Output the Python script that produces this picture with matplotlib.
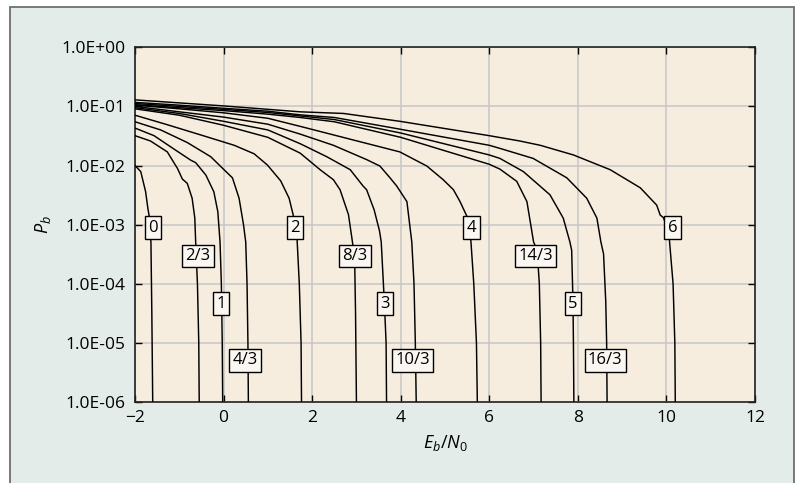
import matplotlib
matplotlib.use("Agg")
import matplotlib.pyplot as plt
from matplotlib.patches import Rectangle

plt.rcParams['font.family'] = ['Open Sans', 'DejaVu Sans']
plt.rcParams['mathtext.fontset'] = 'custom'
plt.rcParams['mathtext.it'] = 'Open Sans:italic'
plt.rcParams['mathtext.rm'] = 'Open Sans'

# ---- data: Eb/N0 (dB) and Pb for each spectral efficiency ----
c0_x = [-2.0, -1.87, -1.76, -1.71, -1.68, -1.64, -1.62, -1.60]
c0_p = [1.0e-2, 7.9e-3, 3.6e-3, 1.9e-3, 1.4e-3, 5.0e-4, 3.2e-5, 1e-6]

c23_x = [-2.0, -1.65, -1.27, -1.04, -0.93, -0.82, -0.71, -0.65, -0.63, -0.59, -0.56, -0.55]
c23_p = [3.2e-2, 2.6e-2, 1.7e-2, 8.9e-3, 5.9e-3, 5.0e-3, 2.8e-3, 1.3e-3, 5.1e-4, 1e-4, 1e-5, 1e-6]

c1_x = [-2.0, -1.57, -1.12, -0.74, -0.63, -0.40, -0.22, -0.13, -0.08, -0.05, -0.03, -0.02]
c1_p = [4.3e-2, 3.2e-2, 1.9e-2, 1.23e-2, 1.12e-2, 6.9e-3, 3.6e-3, 1.66e-3, 5.1e-4, 1e-4, 1e-5, 1e-6]

c43_x = [-2.0, -1.42, -0.82, -0.29, 0.01, 0.20, 0.35, 0.45, 0.50, 0.53, 0.55, 0.56]
c43_p = [5.5e-2, 4.0e-2, 2.45e-2, 1.41e-2, 8.5e-3, 6.2e-3, 2.8e-3, 1.0e-3, 5.1e-4, 1e-4, 1e-5, 1e-6]

c2_x = [-2.0, -1.27, -0.52, 0.24, 0.69, 0.99, 1.29, 1.48, 1.57, 1.65, 1.71, 1.75, 1.76]
c2_p = [7.1e-2, 4.9e-2, 3.3e-2, 2.2e-2, 1.58e-2, 1.02e-2, 5.5e-3, 2.8e-3, 1.48e-3, 7.9e-4, 1e-4, 1e-5, 1e-6]

c83_x = [-2.0, -1.0, 0.0, 1.0, 1.73, 2.18, 2.48, 2.63, 2.82, 2.91, 2.96, 2.98, 3.00]
c83_p = [9.1e-2, 7.1e-2, 4.8e-2, 3.0e-2, 1.62e-2, 8.5e-3, 5.75e-3, 3.9e-3, 1.48e-3, 5.1e-4, 2.5e-4, 3.2e-5, 1e-6]

c3_x = [-2.0, -1.0, 0.0, 1.0, 1.73, 2.33, 2.86, 3.15, 3.23, 3.40, 3.52, 3.56, 3.63, 3.67, 3.68]
c3_p = [9.5e-2, 7.6e-2, 5.6e-2, 4.0e-2, 2.34e-2, 1.41e-2, 8.5e-3, 4.5e-3, 3.9e-3, 1.78e-3, 7.9e-4, 5.1e-4, 5e-5, 1e-5, 1e-6]

c103_x = [-2.0, -1.0, 0.0, 1.0, 1.73, 2.48, 3.23, 3.53, 3.75, 3.91, 4.14, 4.25, 4.30, 4.33, 4.35]
c103_p = [1.0e-1, 8.1e-2, 6.6e-2, 5.0e-2, 3.4e-2, 2.2e-2, 1.26e-2, 9.8e-3, 6.3e-3, 4.5e-3, 2.45e-3, 5.1e-4, 1e-4, 1e-5, 1e-6]

c4_x = [-2.0, -1.0, 0.0, 1.0, 1.73, 2.85, 3.98, 4.59, 4.96, 5.19, 5.34, 5.49, 5.56, 5.65, 5.71, 5.73]
c4_p = [1.05e-1, 9.1e-2, 7.8e-2, 6.3e-2, 4.6e-2, 2.8e-2, 1.7e-2, 9.8e-3, 5.75e-3, 3.9e-3, 2.45e-3, 1.41e-3, 1.0e-3, 1e-4, 1e-5, 1e-6]

c143_x = [-2.0, -1.0, 0.0, 1.0, 1.73, 2.5, 4.0, 6.0, 6.24, 6.62, 6.85, 7.00, 7.08, 7.13, 7.16, 7.17]
c143_p = [1.07e-1, 9.5e-2, 8.5e-2, 7.4e-2, 6.5e-2, 5.5e-2, 3.0e-2, 1.05e-2, 8.7e-3, 5.4e-3, 2.45e-3, 5.1e-4, 3.7e-4, 1e-4, 1e-5, 1e-6]

c5_x = [-2.0, -1.0, 0.0, 1.0, 1.73, 2.5, 4.0, 6.0, 6.24, 6.77, 7.37, 7.67, 7.82, 7.86, 7.89, 7.90, 7.91]
c5_p = [1.12e-1, 1.0e-1, 8.9e-2, 7.9e-2, 6.9e-2, 6.0e-2, 3.55e-2, 1.51e-2, 1.32e-2, 7.9e-3, 3.2e-3, 1.29e-3, 5.1e-4, 3.7e-4, 5e-5, 1e-5, 1e-6]

c163_x = [-2.0, -1.0, 0.0, 1.0, 1.73, 2.5, 4.0, 6.0, 6.24, 6.99, 7.75, 8.20, 8.43, 8.52, 8.58, 8.63, 8.65, 8.66]
c163_p = [1.17e-1, 1.05e-1, 9.3e-2, 8.3e-2, 7.2e-2, 6.5e-2, 4.1e-2, 2.2e-2, 1.95e-2, 1.32e-2, 6.2e-3, 2.8e-3, 1.29e-3, 5.1e-4, 3.2e-4, 5e-5, 1e-5, 1e-6]

c6_x = [-2.0, 0.0, 1.73, 2.71, 3.98, 6.0, 6.69, 7.15, 7.90, 8.73, 9.41, 9.78, 9.86, 9.93, 10.05, 10.15, 10.19, 10.20]
c6_p = [1.29e-1, 1.02e-1, 8.1e-2, 7.6e-2, 5.6e-2, 3.2e-2, 2.6e-2, 2.2e-2, 1.51e-2, 8.5e-3, 4.2e-3, 2.14e-3, 1.45e-3, 1.32e-3, 7.9e-4, 1e-4, 1e-5, 1e-6]

curves_x = [c0_x, c23_x, c1_x, c43_x, c2_x, c83_x, c3_x, c103_x, c4_x, c143_x, c5_x, c163_x, c6_x]
curves_p = [c0_p, c23_p, c1_p, c43_p, c2_p, c83_p, c3_p, c103_p, c4_p, c143_p, c5_p, c163_p, c6_p]

label_text = ['0', '2/3', '1', '4/3', '2', '8/3', '3', '10/3', '4', '14/3', '5', '16/3', '6']
label_x = [-1.59, -0.58, -0.05, 0.48, 1.62, 2.97, 3.65, 4.27, 5.60, 7.05, 7.89, 8.62, 10.14]
label_p = [8.9e-4, 2.95e-4, 4.6e-5, 5.1e-6, 8.9e-4, 2.95e-4, 4.6e-5, 5.1e-6, 8.9e-4, 2.95e-4, 4.6e-5, 5.1e-6, 8.9e-4]

x_ticks = [-2, 0, 2, 4, 6, 8, 10, 12]
x_ticklabels = ['\u22122', '0', '2', '4', '6', '8', '10', '12']
y_ticks = [1e-6, 1e-5, 1e-4, 1e-3, 1e-2, 1e-1, 1e0]
y_ticklabels = ['1.0E-06', '1.0E-05', '1.0E-04', '1.0E-03', '1.0E-02', '1.0E-01', '1.0E+00']

# ---- figure ----
W, H = 798, 483
fig = plt.figure(figsize=(W / 100, H / 100), dpi=100)
fig.patch.set_facecolor('white')
frame = Rectangle((10 / W, -0.05), (794 - 10) / W, 1.05 - 7 / H, transform=fig.transFigure,
                  facecolor='#E3ECE8', edgecolor='#6E6E6E', lw=1.3, zorder=-10)
fig.patches.append(frame)

ax = fig.add_axes([135 / W, 1 - 402 / H, (755 - 135) / W, (402 - 47.3) / H])
ax.set_facecolor('#F6EDDE')
ax.set_yscale('log')

for xs, ps in zip(curves_x, curves_p):
    ax.plot(xs, ps, color='black', lw=1.05, solid_joinstyle='round', zorder=3)

for t, lx, lp in zip(label_text, label_x, label_p):
    ax.text(lx, lp, t, ha='center', va='center', fontsize=12, zorder=5,
            bbox=dict(boxstyle='square,pad=0.2', facecolor='#FAF7F2', edgecolor='black', lw=1.0))

ax.set_xlim(-2, 12)
ax.set_ylim(1e-6, 1)
ax.set_xticks(x_ticks)
ax.set_xticklabels(x_ticklabels)
ax.set_yticks(y_ticks)
ax.set_yticklabels(y_ticklabels)
ax.minorticks_off()
ax.tick_params(axis='both', which='major', direction='in', length=5, width=1.0,
               top=True, right=True, labelsize=12.5, colors='black')
ax.tick_params(axis='y', pad=7)
ax.tick_params(axis='x', pad=6)
ax.grid(True, color='#C6C6C6', lw=1.1, zorder=0)
ax.set_axisbelow(True)
for s in ax.spines.values():
    s.set_color('#222222')
    s.set_linewidth(1.2)

ax.set_xlabel('$E_b/N_0$', fontsize=13, labelpad=5)
ax.set_ylabel('$P_b$', fontsize=13, labelpad=6)

fig.savefig('out.png', dpi=100, facecolor=fig.get_facecolor())
